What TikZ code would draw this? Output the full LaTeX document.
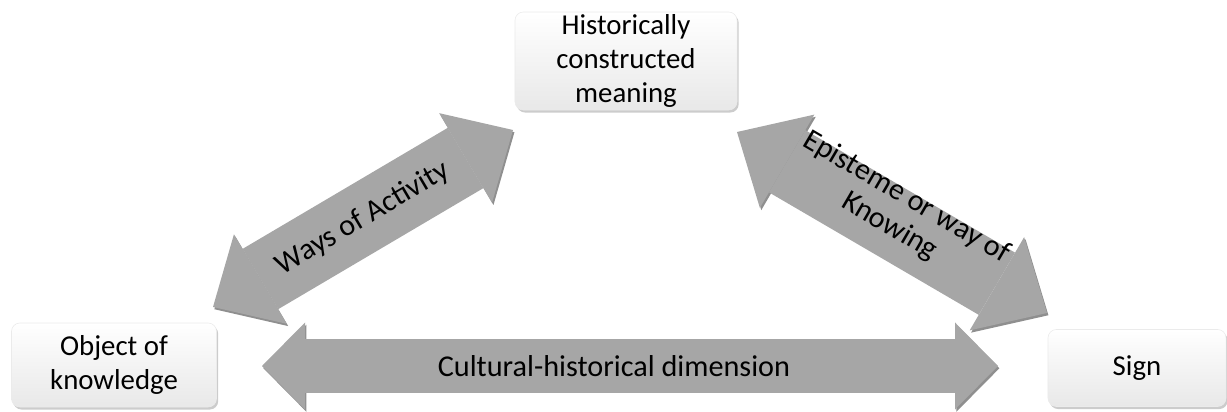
\documentclass[tikz,border=0pt]{standalone}
\usepackage{fontspec}
\setmainfont{Carlito}
\usetikzlibrary{arrows.meta}
\usetikzlibrary{shadows}
\tikzset{box/.style = {rounded corners=6pt, top color=white, bottom color=black!9,
                       draw=black!8, align=center, inner sep=0pt,
                       font=\fontsize{20.5}{24}\selectfont,
                       drop shadow={shadow xshift=1.2pt, shadow yshift=-1.8pt, opacity=0.4}}}
\tikzset{fat/.style n args = {3}{line width=#1, draw=black!35,
                                 arrows={Triangle[length=#2, width=#3, line width=0pt]-Triangle[length=#2, width=#3, line width=0pt]},
                                 preaction={draw=black!44, transform canvas={shift={(1pt,-1.6pt)}}}}}
\tikzset{lbl/.style = {midway, sloped, align=center, font=\fontsize{21.5}{24}\selectfont}}

\begin{document}
\begin{tikzpicture}[x=0.025cm, y=-0.025cm]
    \useasboundingbox (0, 0) rectangle (1227, 412);

    \node [box, minimum width=5.55cm, minimum height=2.45cm] (meaning) at (626, 61) {Historically\\constructed\\meaning};
    \node [box, minimum width=5.125cm, minimum height=2.1cm] (object) at (114, 365) {Object of\\knowledge};
    \node [box, minimum width=4.45cm, minimum height=1.925cm] (sign) at (1137, 368) {Sign};

    \coordinate (activity-a) at (213, 307);
    \coordinate (activity-b) at (513, 130);
    \draw [fat={1.75cm}{1.375cm}{2.6cm}] (activity-a) -- (activity-b) node [lbl] {Ways of Activity};

    \coordinate (knowing-a) at (737, 132);
    \coordinate (knowing-b) at (1047, 313);
    \draw [fat={1.8cm}{1.45cm}{2.7cm}] (knowing-a) -- (knowing-b) node [lbl, yshift=0.3cm] {Episteme or way of\\Knowing};

    \coordinate (culture-a) at (262, 366);
    \coordinate (culture-b) at (998, 366);
    \draw [fat={1.325cm}{1.075cm}{2.175cm}] (culture-a) -- (culture-b) node [lbl, xshift=-0.4cm] {Cultural-historical dimension};
  \end{tikzpicture}
\end{document}
